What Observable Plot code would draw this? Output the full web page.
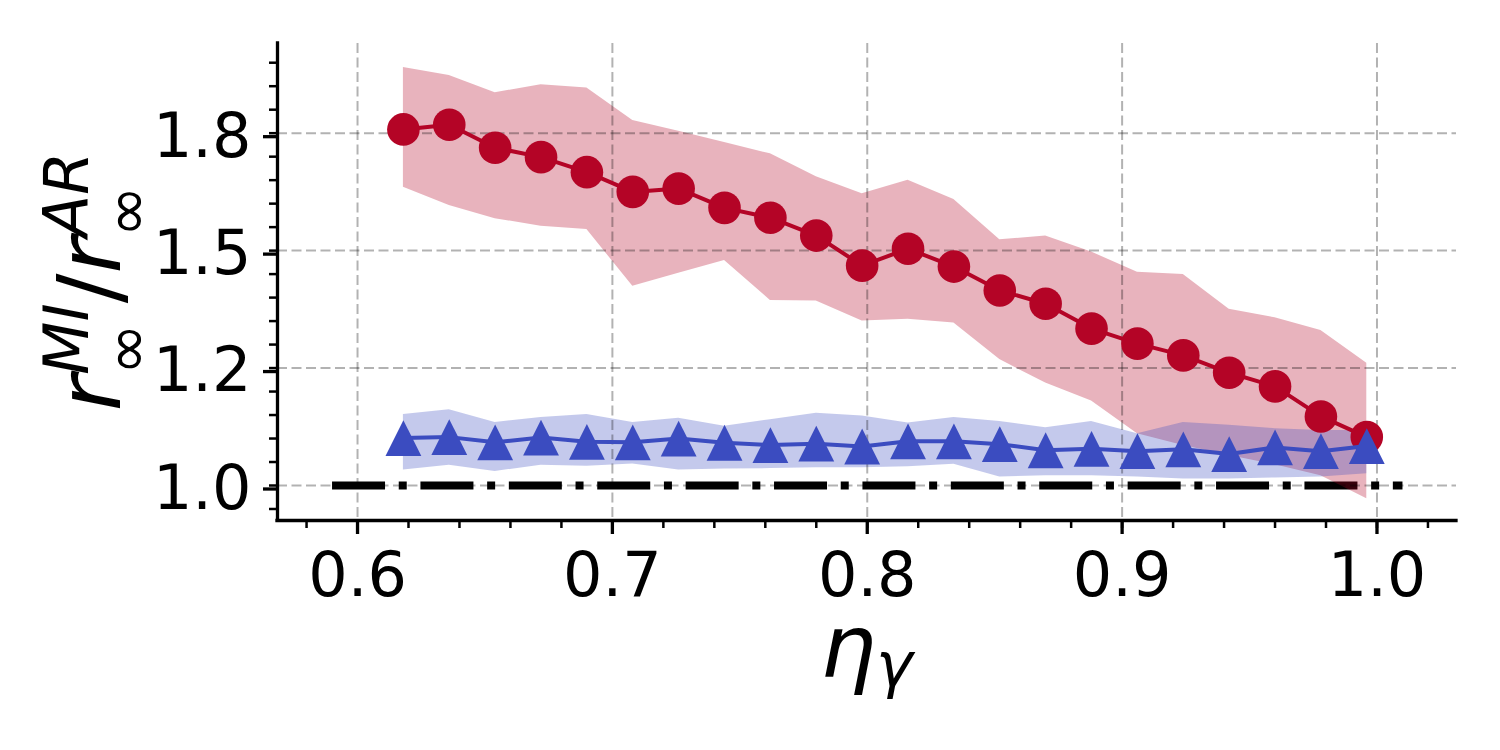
<!DOCTYPE html>
<html>
<head>
<meta charset="utf-8">
<script src="https://cdn.jsdelivr.net/npm/d3@7"></script>
<script src="https://cdn.jsdelivr.net/npm/@observablehq/plot@0.6"></script>
<style>
  html, body { margin: 0; padding: 0; background: #fff; }
  #chart { width: 1500px; height: 750px; }
</style>
</head>
<body>
<div id="chart"></div>
<script>
// ---- data ----
const eta = [0.618, 0.636, 0.654, 0.672, 0.690, 0.708, 0.726, 0.744, 0.762, 0.780, 0.798,
             0.816, 0.834, 0.852, 0.870, 0.888, 0.906, 0.924, 0.942, 0.960, 0.978, 0.996];

const redMean = [1.758, 1.768, 1.719, 1.699, 1.667, 1.625, 1.632, 1.591, 1.570, 1.532, 1.468,
                 1.504, 1.466, 1.415, 1.387, 1.334, 1.302, 1.277, 1.240, 1.211, 1.147, 1.103];
const redHigh = [1.890, 1.873, 1.836, 1.853, 1.846, 1.777, 1.754, 1.730, 1.706, 1.657, 1.621,
                 1.650, 1.609, 1.523, 1.531, 1.497, 1.454, 1.449, 1.375, 1.357, 1.330, 1.260];
const redLow  = [1.635, 1.596, 1.568, 1.552, 1.545, 1.424, 1.452, 1.479, 1.394, 1.393, 1.350,
                 1.354, 1.346, 1.268, 1.218, 1.180, 1.110, 1.085, 1.064, 1.044, 1.021, 0.972];

const blueMean = [1.101, 1.103, 1.092, 1.102, 1.093, 1.092, 1.100, 1.091, 1.086, 1.089, 1.083,
                  1.094, 1.094, 1.088, 1.075, 1.078, 1.073, 1.077, 1.067, 1.081, 1.073, 1.084];
const blueHigh = [1.151, 1.161, 1.134, 1.145, 1.151, 1.134, 1.143, 1.126, 1.140, 1.154, 1.148,
                  1.133, 1.145, 1.136, 1.123, 1.136, 1.110, 1.134, 1.128, 1.121, 1.117, 1.117];
const blueLow  = [1.033, 1.043, 1.030, 1.043, 1.041, 1.046, 1.033, 1.035, 1.036, 1.038, 1.038,
                  1.040, 1.045, 1.018, 1.021, 1.021, 1.018, 1.014, 1.014, 1.016, 1.018, 1.025];

// reference line r = 1
const refX = [0.59, 1.01];
const refY = 1.0;

// ticks
const xTicks = [0.6, 0.7, 0.8, 0.9, 1.0];
const xTickLabels = ["0.6", "0.7", "0.8", "0.9", "1.0"];
const xMinor = [0.58, 0.60, 0.62, 0.64, 0.66, 0.68, 0.70, 0.72, 0.74, 0.76, 0.78, 0.80,
                0.82, 0.84, 0.86, 0.88, 0.90, 0.92, 0.94, 0.96, 0.98, 1.00, 1.02];
const yTicks = [1.0, 1.25, 1.5, 1.75];
const yTickLabels = ["1.0", "1.2", "1.5", "1.8"];
const yMinor = [0.95, 1.00, 1.05, 1.10, 1.15, 1.20, 1.25, 1.30, 1.35, 1.40, 1.45, 1.50,
                1.55, 1.60, 1.65, 1.70, 1.75, 1.80, 1.85, 1.90];

const xDomain = [0.5686, 1.0312];
const yDomain = [0.9255, 1.9409];

// ---- tables built from the arrays ----
const rows = eta.map((x, i) => ({
  x, redMean: redMean[i], redHigh: redHigh[i], redLow: redLow[i],
  blueMean: blueMean[i], blueHigh: blueHigh[i], blueLow: blueLow[i]
}));
const refLine = refX.map(x => ({x, y: refY}));

const RED = "#b40426";
const BLUE = "#3b4cc0";

// matplotlib-like "^" marker: centred on its bounding box
const triangleUp = {
  draw(context, size) {
    const s = Math.sqrt(size / Math.PI);
    context.moveTo(0, -s);
    context.lineTo(s, s);
    context.lineTo(-s, s);
    context.closePath();
  }
};

// axis titles written as math-like text
function mathLabels() {
  return (index, scales, values, dims) => {
    const ctx = document.createElement("canvas").getContext("2d");
    const w = (txt, style, size) => { ctx.font = `${style} ${size}px "DejaVu Sans"`; return ctx.measureText(txt).width; };
    const g = d3.create("svg:g").attr("font-family", "DejaVu Sans").attr("fill", "#000");
    const cx = (dims.marginLeft + dims.width - dims.marginRight) / 2;
    const cy = (dims.marginTop + dims.height - dims.marginBottom) / 2;
    const big = 88, small = 62, up = 32, down = 28;

    const xl = g.append("text")
      .attr("transform", `translate(${cx},677)`)
      .attr("text-anchor", "middle")
      .attr("font-size", big).attr("font-style", "italic");
    xl.append("tspan").text("η");
    xl.append("tspan").attr("font-size", small).attr("dy", 9).text("γ");

    const wMI = w("MI", "italic", small), wAR = w("AR", "italic", small), wInf = w("∞", "normal", small);
    const yl = g.append("text")
      .attr("transform", `translate(120,${cy}) rotate(-90)`)
      .attr("text-anchor", "middle")
      .attr("font-size", big).attr("font-style", "italic");
    yl.append("tspan").text("r");
    yl.append("tspan").attr("font-size", small).attr("dy", -up).text("MI");
    yl.append("tspan").attr("font-size", small).attr("font-style", "normal")
      .attr("dx", -wMI).attr("dy", up + down).text("∞");
    yl.append("tspan").attr("font-style", "normal")
      .attr("dx", Math.max(0, wMI - wInf)).attr("dy", -down).text("/");
    yl.append("tspan").text("r");
    yl.append("tspan").attr("font-size", small).attr("dy", -up).text("AR");
    yl.append("tspan").attr("font-size", small).attr("font-style", "normal")
      .attr("dx", -wAR).attr("dy", up + down).text("∞");
    return g.node();
  };
}

const gridStyle = {stroke: "#000", strokeOpacity: 0.3, strokeWidth: 2, strokeDasharray: "10,4.5"};

const chart = Plot.plot({
  width: 1500,
  height: 750,
  marginLeft: 277,
  marginRight: 44,
  marginTop: 43,
  marginBottom: 230,
  x: {domain: xDomain},
  y: {domain: yDomain},
  style: {fontFamily: "DejaVu Sans", fontSize: "62px", background: "#fff", color: "#000"},
  marks: [
    Plot.line(refLine, {x: "x", y: "y", stroke: "#000", strokeWidth: 8,
      strokeDasharray: "53,13.7,8,13.7", strokeLinecap: "butt"}),
    Plot.areaY(rows, {x: "x", y1: "redLow", y2: "redHigh", fill: RED, fillOpacity: 0.3}),
    Plot.areaY(rows, {x: "x", y1: "blueLow", y2: "blueHigh", fill: BLUE, fillOpacity: 0.3}),
    Plot.gridX(xTicks, gridStyle),
    Plot.gridY(yTicks, gridStyle),
    Plot.line(rows, {x: "x", y: "redMean", stroke: RED, strokeWidth: 4}),
    Plot.dot(rows, {x: "x", y: "redMean", r: 16.3, fill: RED}),
    Plot.line(rows, {x: "x", y: "blueMean", stroke: BLUE, strokeWidth: 4}),
    Plot.dot(rows, {x: "x", y: "blueMean", r: 17.9, fill: BLUE, symbol: triangleUp}),
    Plot.ruleX([xDomain[0]], {stroke: "#000", strokeWidth: 3.3, strokeLinecap: "square"}),
    Plot.ruleY([yDomain[0]], {stroke: "#000", strokeWidth: 3.3, strokeLinecap: "square"}),
    Plot.axisX({ticks: xTicks, tickFormat: d => xTickLabels[xTicks.indexOf(d)],
      tickSize: 14, tickPadding: 17, strokeWidth: 3.3, fontSize: 62, label: null}),
    Plot.axisX({ticks: xMinor, tickFormat: () => "", fill: "none", tickSize: 8, strokeWidth: 2.5, label: null}),
    Plot.axisY({ticks: yTicks, tickFormat: d => yTickLabels[yTicks.indexOf(d)],
      tickSize: 14, tickPadding: 12, strokeWidth: 3.3, fontSize: 62, dy: 3.5, label: null}),
    Plot.axisY({ticks: yMinor, tickFormat: () => "", fill: "none", tickSize: 8, strokeWidth: 2.5, label: null}),
    mathLabels()
  ]
});

document.getElementById("chart").appendChild(chart);
</script>
</body>
</html>
